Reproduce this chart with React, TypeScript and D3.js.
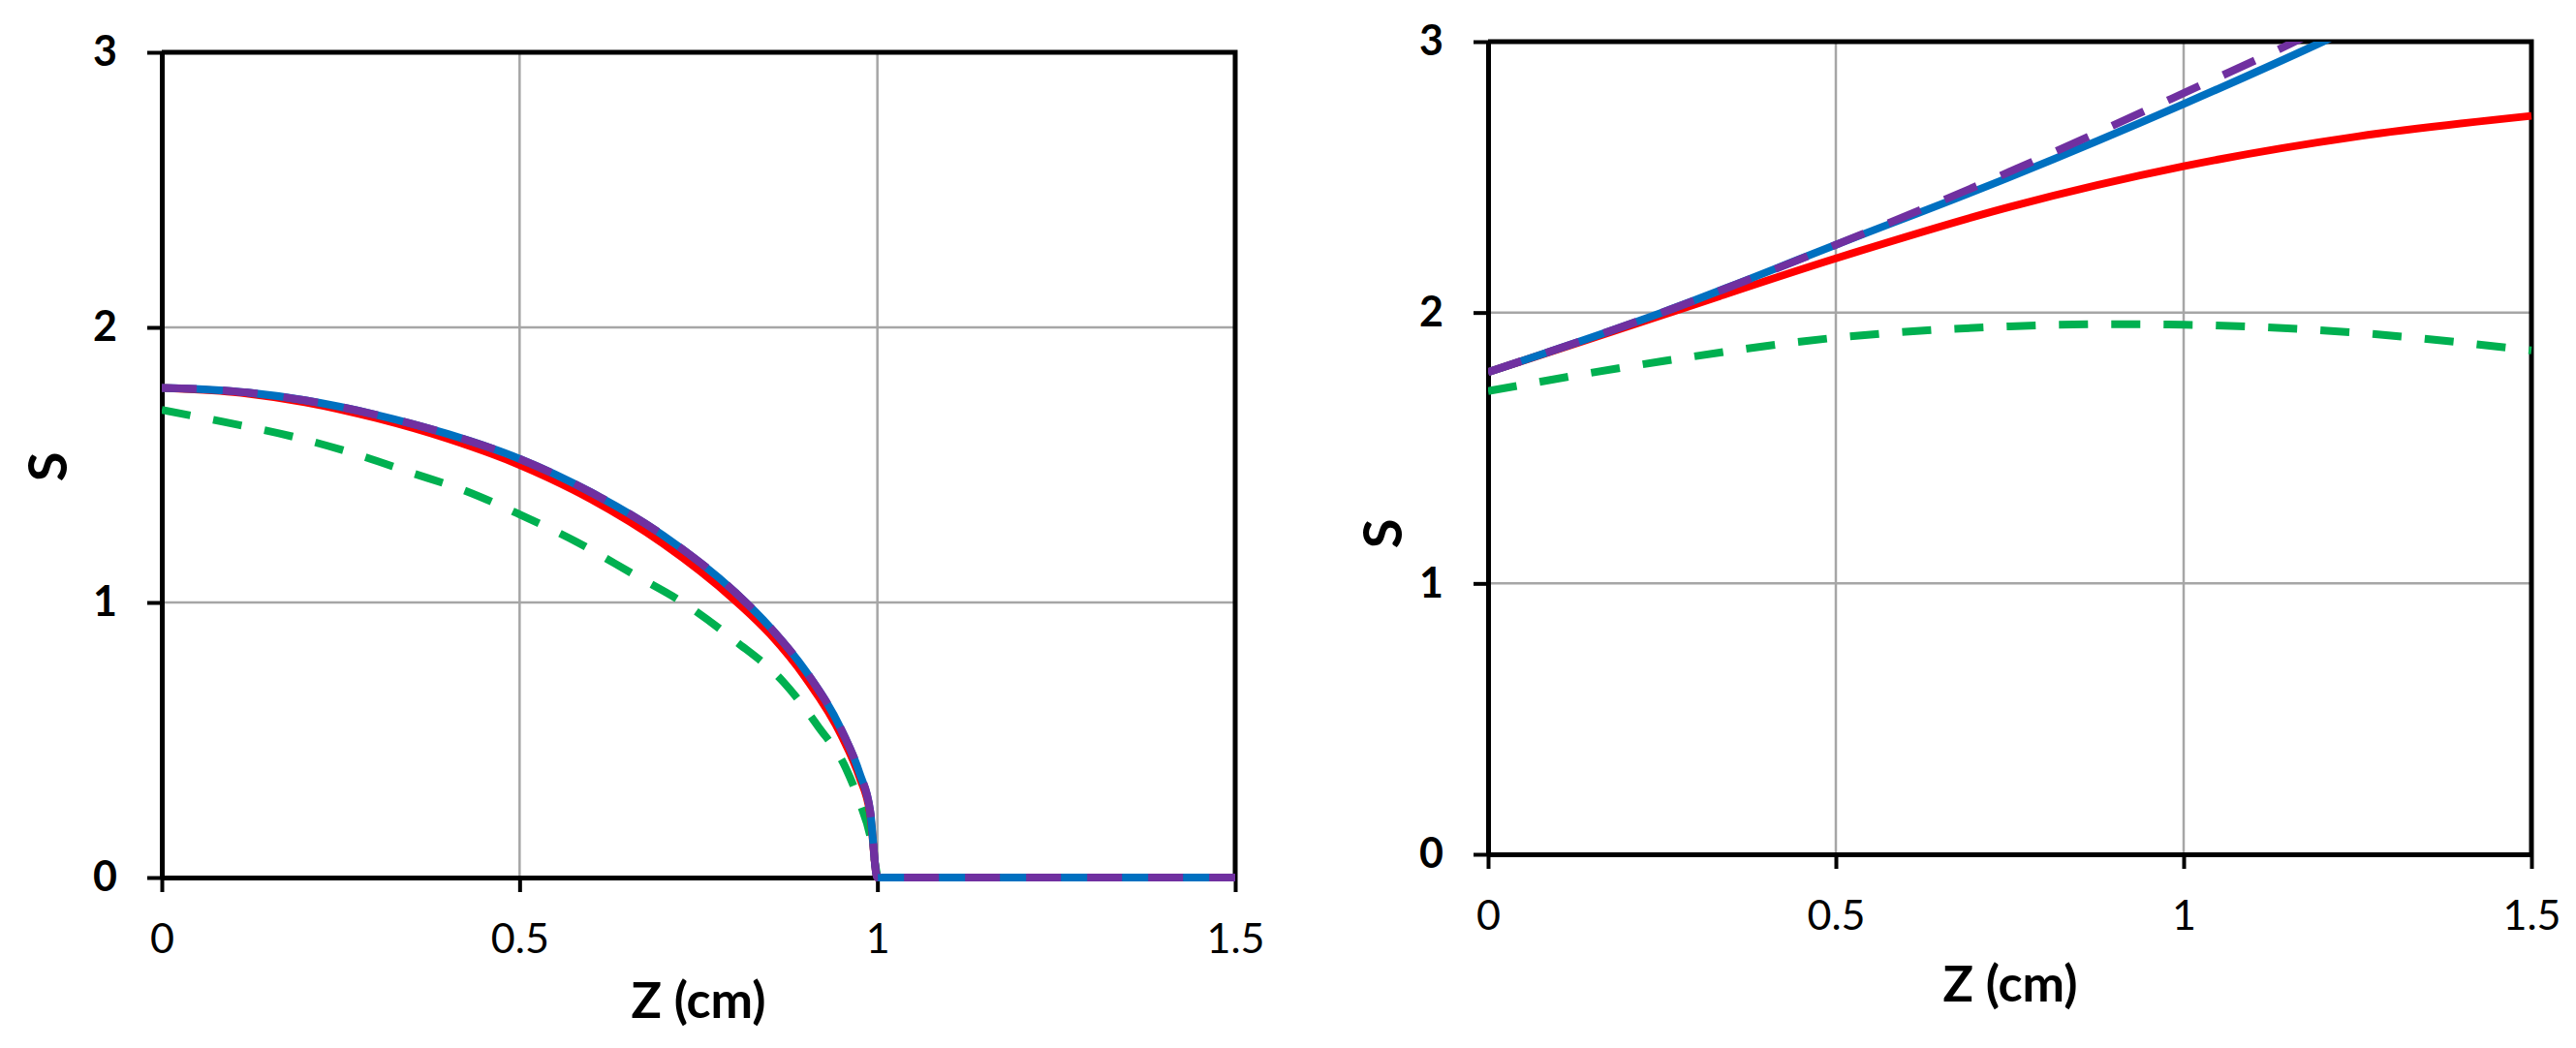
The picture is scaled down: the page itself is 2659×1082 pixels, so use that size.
import React, { useEffect, useRef } from 'react';
import * as d3 from 'd3';

// tick values shared by both panels
const zTicks = [0, 0.5, 1, 1.5];
const sTicks = [0, 1, 2, 3];

// left panel: S vs Z (cm)
const leftRed = [[0, 1.78], [0.1, 1.765], [0.2, 1.728], [0.3, 1.67], [0.4, 1.595], [0.5, 1.5], [0.6, 1.375], [0.7, 1.215], [0.8, 1.01], [0.85, 0.885], [0.9, 0.725], [0.95, 0.515], [0.975, 0.365], [0.99, 0.23], [1.0, 0], [1.5, 0]];
const leftBlue = [[0, 1.78], [0.1, 1.768], [0.2, 1.735], [0.3, 1.682], [0.4, 1.612], [0.5, 1.522], [0.6, 1.4], [0.7, 1.245], [0.8, 1.04], [0.85, 0.91], [0.9, 0.75], [0.95, 0.535], [0.975, 0.38], [0.99, 0.24], [1.0, 0], [1.5, 0]];
const leftPurple = leftBlue;
const leftGreen = [[0, 1.7], [0.087, 1.656], [0.183, 1.603], [0.27, 1.54], [0.347, 1.473], [0.425, 1.405], [0.5, 1.32], [0.579, 1.221], [0.656, 1.107], [0.734, 0.99], [0.8, 0.863], [0.869, 0.71], [0.917, 0.55], [0.956, 0.397], [0.975, 0.275], [0.99, 0.15], [1.0, 0]];

// right panel
const rightRed = [[0, 1.78], [0.25, 1.99], [0.5, 2.2], [0.75, 2.39], [1.0, 2.54], [1.25, 2.65], [1.5, 2.726]];
const rightBlue = [[0, 1.78], [0.25, 2.0], [0.5, 2.25], [0.75, 2.5], [1.0, 2.77], [1.2, 3.0], [1.25, 3.06]];
const rightPurple = [[0, 1.78], [0.25, 2.0], [0.5, 2.25], [0.75, 2.52], [1.0, 2.81], [1.16, 3.0], [1.2, 3.05]];
const rightGreen = [[0, 1.71], [0.25, 1.82], [0.5, 1.907], [0.75, 1.949], [0.9, 1.957], [1.0, 1.955], [1.25, 1.925], [1.5, 1.86]];

const FONT = 'Lato, "Open Sans", sans-serif';

function drawPanel(svg, id, box, series, yLabelPos, xLabelPos) {
  const x = d3.scaleLinear().domain([0, 1.5]).range([box.x0, box.x1]);
  const y = d3.scaleLinear().domain([0, 3]).range([box.y0, box.y1]);
  const g = svg.append('g');

  // grid
  g.selectAll('.vg').data([0.5, 1]).enter().append('line')
    .attr('x1', (d) => x(d)).attr('x2', (d) => x(d))
    .attr('y1', box.y0).attr('y2', box.y1)
    .attr('stroke', '#a6a6a6').attr('stroke-width', 2.5);
  g.selectAll('.hg').data([1, 2]).enter().append('line')
    .attr('x1', box.x0).attr('x2', box.x1)
    .attr('y1', (d) => y(d)).attr('y2', (d) => y(d))
    .attr('stroke', '#a6a6a6').attr('stroke-width', 2.5);

  // frame (top + right)
  g.append('path')
    .attr('d', `M${box.x0},${box.y1}H${box.x1}V${box.y0}`)
    .attr('fill', 'none').attr('stroke', '#000').attr('stroke-width', 5);

  // axes
  const xAxis = g.append('g')
    .attr('transform', `translate(0,${box.y0})`)
    .call(d3.axisBottom(x).tickValues(zTicks).tickSizeInner(15).tickSizeOuter(0).tickPadding(32).tickFormat(d3.format('')));
  const yAxis = g.append('g')
    .attr('transform', `translate(${box.x0},0)`)
    .call(d3.axisLeft(y).tickValues(sTicks).tickSizeInner(15).tickSizeOuter(0).tickPadding(31).tickFormat(d3.format('d')));

  [xAxis, yAxis].forEach((a) => {
    a.select('.domain').attr('stroke', '#000').attr('stroke-width', 5);
    a.selectAll('.tick line').attr('stroke', '#000').attr('stroke-width', 4);
    a.selectAll('.tick text').attr('fill', '#000').style('font-family', FONT).style('font-size', '43px');
  });
  yAxis.selectAll('.tick text').style('font-weight', 'bold');

  // clip for the lines (top edge cuts the rising curves)
  svg.append('clipPath').attr('id', id)
    .append('rect')
    .attr('x', box.x0).attr('y', box.y1)
    .attr('width', box.x1 - box.x0 + 6).attr('height', box.y0 - box.y1 + 6);

  const line = d3.line().x((d) => x(d[0])).y((d) => y(d[1])).curve(d3.curveMonotoneX);
  const lines = g.append('g').attr('clip-path', `url(#${id})`);
  series.forEach((s) => {
    lines.append('path')
      .attr('d', line(s.data))
      .attr('fill', 'none')
      .attr('stroke', s.color)
      .attr('stroke-width', 8)
      .attr('stroke-dasharray', s.dash || null)
      .attr('stroke-linejoin', 'round');
  });

  // axis titles
  g.append('text')
    .attr('x', xLabelPos[0]).attr('y', xLabelPos[1])
    .attr('text-anchor', 'middle').attr('dominant-baseline', 'central')
    .style('font-family', FONT).style('font-size', '52px').style('font-weight', 'bold')
    .text('Z (cm)');
  g.append('text')
    .attr('transform', `translate(${yLabelPos[0]},${yLabelPos[1]}) rotate(-90)`)
    .attr('text-anchor', 'middle').attr('dominant-baseline', 'central')
    .style('font-family', FONT).style('font-size', '56px').style('font-weight', 'bold')
    .text('S');
}

function App() {
  const ref = useRef(null);

  useEffect(() => {
    document.body.style.margin = '0';
    const svg = d3.select(ref.current);
    svg.selectAll('*').remove();

    drawPanel(svg, 'clipL', { x0: 167, x1: 1275, y0: 906, y1: 54 }, [
      { data: leftGreen, color: '#00B050', dash: '30 24' },
      { data: leftRed, color: '#FF0000' },
      { data: leftBlue, color: '#0070C0' },
      { data: leftPurple, color: '#7030A0', dash: '36 27' },
    ], [47, 482], [721, 1031]);

    drawPanel(svg, 'clipR', { x0: 1536, x1: 2613, y0: 882, y1: 43 }, [
      { data: rightGreen, color: '#00B050', dash: '30 24' },
      { data: rightRed, color: '#FF0000' },
      { data: rightBlue, color: '#0070C0' },
      { data: rightPurple, color: '#7030A0', dash: '36 27' },
    ], [1425, 551], [2075, 1014]);
  }, []);

  return (
    <svg ref={ref} width={2659} height={1082} style={{ display: 'block', background: '#fff' }} />
  );
}

export default App;
